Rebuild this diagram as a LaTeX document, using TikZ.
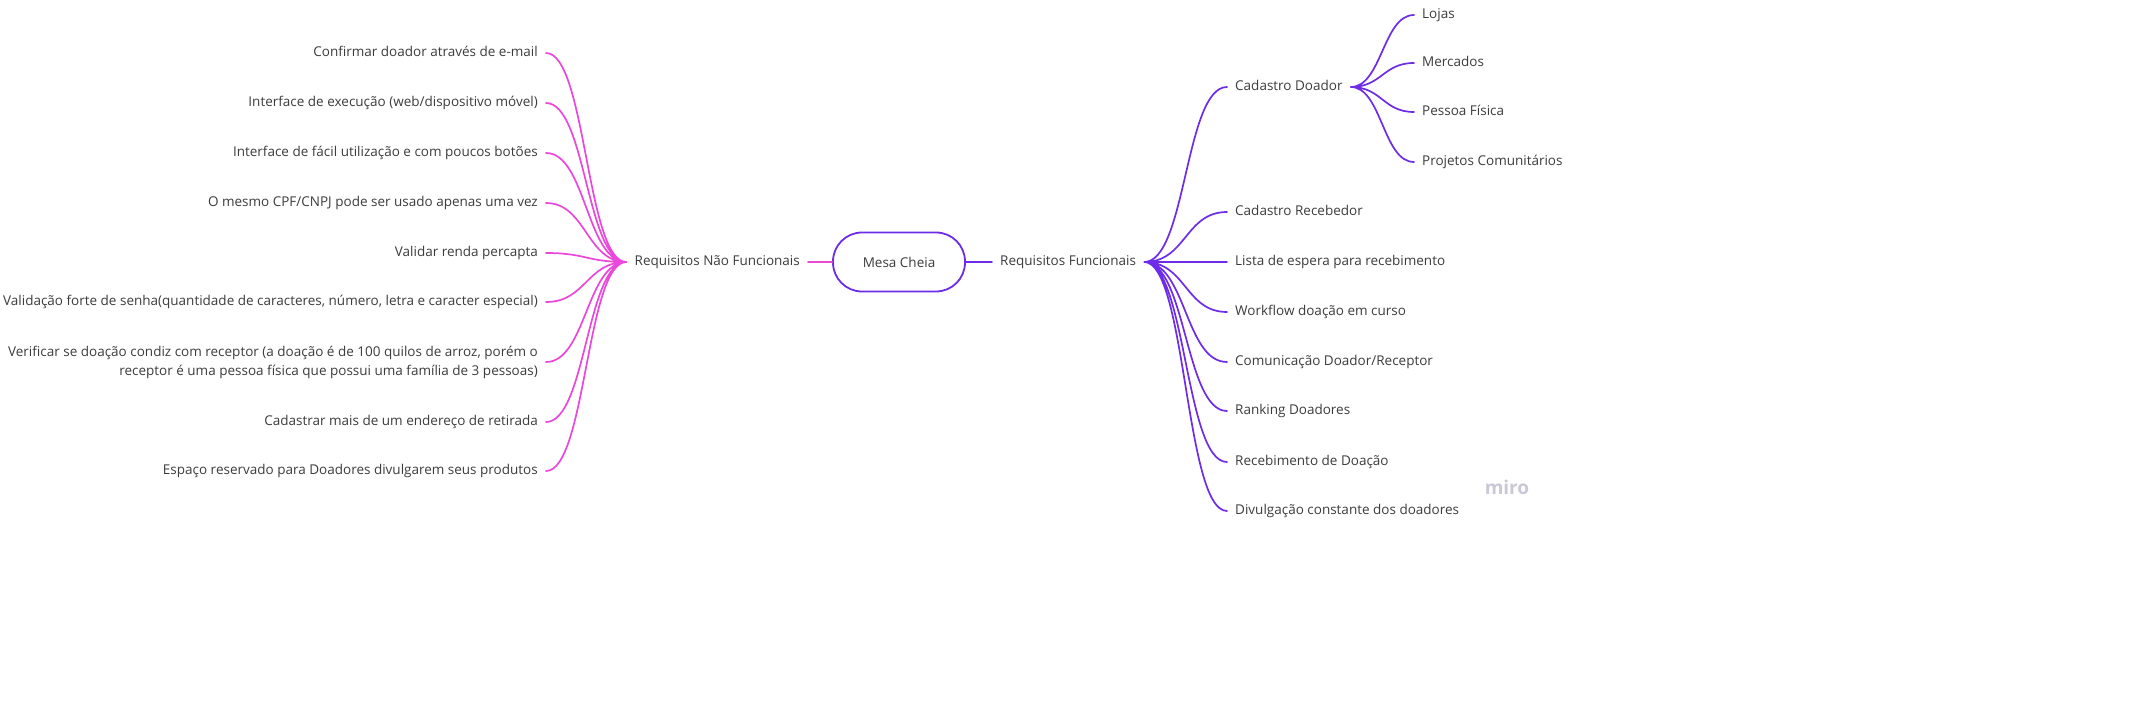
\documentclass[tikz,border=0pt]{standalone}
\usepackage{fontspec}
\setmainfont{Open Sans}
\definecolor{rosa}{RGB}{234,72,218}
\definecolor{roxo}{RGB}{110,44,232}
\definecolor{texto}{RGB}{60,60,60}
\definecolor{marca}{RGB}{200,200,214}
\begin{document}
\begin{tikzpicture}[x=1pt,y=-1pt,line join=round,line cap=round,font=\fontsize{13.5}{19}\selectfont,
	txt/.style={text=texto,inner xsep=8pt,inner ysep=3pt,text height=10pt,text depth=3pt},
	caixa/.style={draw=roxo,line width=1.8pt,rounded corners=29pt,minimum width=132pt,minimum height=59pt,text=texto},
	ramo/.style={line width=1.7pt,to path={.. controls ([xshift=#1]\tikztostart) and ([xshift=-#1]\tikztotarget) .. (\tikztotarget)}}]
	\useasboundingbox (0,0) rectangle (2148,727);
	% centro
	\node[caixa] (mesa) at (899,262) {Mesa Cheia};
	\node[txt,anchor=east] (rnf) at (808,262) {Requisitos Não Funcionais};
	\node[txt,anchor=west] (rf) at (992,262) {Requisitos Funcionais};
	\draw[rosa,line width=1.8pt] (mesa.west)--(rnf.east);
	\draw[roxo,line width=1.8pt] (mesa.east)--(rf.west);
	% nao funcionais
	\node[txt,anchor=east] (nf1) at (546,53) {Confirmar doador através de e-mail};
	\node[txt,anchor=east] (nf2) at (546,103) {Interface de execução (web/dispositivo móvel)};
	\node[txt,anchor=east] (nf3) at (546,153) {Interface de fácil utilização e com poucos botões};
	\node[txt,anchor=east] (nf4) at (546,203) {O mesmo CPF/CNPJ pode ser usado apenas uma vez};
	\node[txt,anchor=east] (nf5) at (546,253) {Validar renda percapta};
	\node[txt,anchor=east] (nf6) at (546,302) {Validação forte de senha(quantidade de caracteres, número, letra e caracter especial)};
	\node[txt,anchor=east,align=right,text height=,text depth=] (nf7) at (546,362) {Verificar se doação condiz com receptor (a doação é de 100 quilos de arroz, porém o\\receptor é uma pessoa física que possui uma família de 3 pessoas)};
	\node[txt,anchor=east] (nf8) at (546,422) {Cadastrar mais de um endereço de retirada};
	\node[txt,anchor=east] (nf9) at (546,471) {Espaço reservado para Doadores divulgarem seus produtos};
	\draw[rosa,ramo=-40pt]
	(rnf.west) to (nf1.east) (rnf.west) to (nf2.east) (rnf.west) to (nf3.east)
	(rnf.west) to (nf4.east) (rnf.west) to (nf5.east) (rnf.west) to (nf6.east)
	(rnf.west) to (nf7.east) (rnf.west) to (nf8.east) (rnf.west) to (nf9.east);
	% funcionais
	\node[txt,anchor=west] (f1) at (1227,87) {Cadastro Doador};
	\node[txt,anchor=west] (f2) at (1227,212) {Cadastro Recebedor};
	\node[txt,anchor=west] (f3) at (1227,262) {Lista de espera para recebimento};
	\node[txt,anchor=west] (f4) at (1227,312) {Workflow doação em curso};
	\node[txt,anchor=west] (f5) at (1227,362) {Comunicação Doador/Receptor};
	\node[txt,anchor=west] (f6) at (1227,411) {Ranking Doadores};
	\node[txt,anchor=west] (f7) at (1227,462) {Recebimento de Doação};
	\node[txt,anchor=west] (f8) at (1227,511) {Divulgação constante dos doadores};
	\draw[roxo,ramo=42pt]
	(rf.east) to (f1.west) (rf.east) to (f2.west) (rf.east) to (f3.west) (rf.east) to (f4.west)
	(rf.east) to (f5.west) (rf.east) to (f6.west) (rf.east) to (f7.west) (rf.east) to (f8.west);
	% cadastro doador
	\node[txt,anchor=west] (d1) at (1414,15) {Lojas};
	\node[txt,anchor=west] (d2) at (1414,63) {Mercados};
	\node[txt,anchor=west] (d3) at (1414,112) {Pessoa Física};
	\node[txt,anchor=west] (d4) at (1414,162) {Projetos Comunitários};
	\draw[roxo,ramo=31pt]
	(f1.east) to (d1.west) (f1.east) to (d2.west) (f1.east) to (d3.west) (f1.east) to (d4.west);
	\node[text=marca,font=\fontsize{19}{19}\bfseries] (miro) at (1507,487) {miro};
\end{tikzpicture}
\end{document}
